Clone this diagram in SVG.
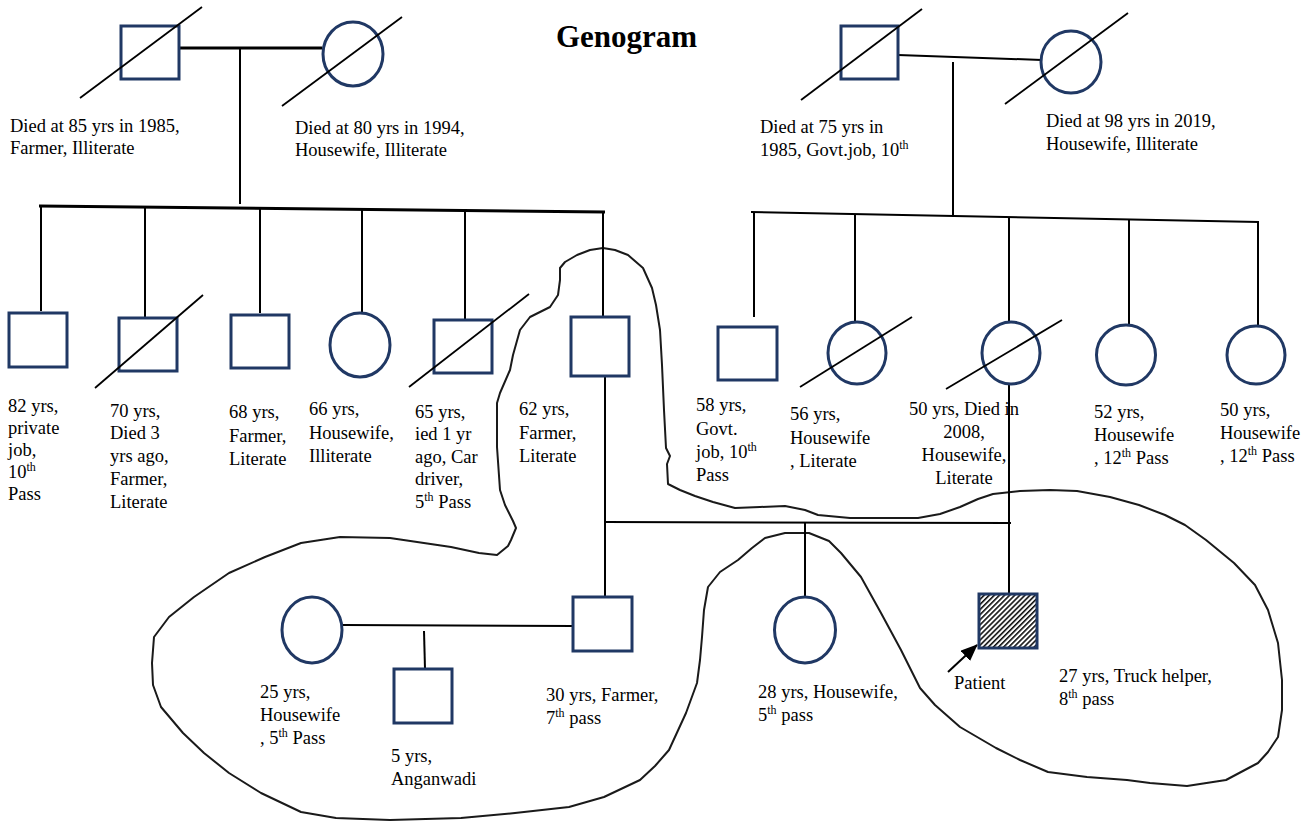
<svg xmlns="http://www.w3.org/2000/svg" width="1313" height="821" viewBox="0 0 1313 821">
<style>
text{font-family:"Liberation Serif","Times New Roman",serif;font-size:18.5px;fill:#000}
.title{font-size:31px;font-weight:bold}
.mid{text-anchor:middle}
.sq,.ci{fill:#fff;stroke:#203864;stroke-width:3}
.pt{fill:url(#hatch);stroke:#203864;stroke-width:3}
.ln{stroke:#000;stroke-width:2;fill:none}
.thick{stroke:#000;stroke-width:3;fill:none}
.dead{stroke:#000;stroke-width:1.8}
.bound{fill:none;stroke:#1a1a1a;stroke-width:2;stroke-linejoin:round}
.sup{font-size:12px}
</style>
<defs>
<pattern id="hatch" patternUnits="userSpaceOnUse" width="3.6" height="6" patternTransform="rotate(45)">
<rect width="3.6" height="6" fill="#fff"/>
<line x1="0.8" y1="0" x2="0.8" y2="6" stroke="#000" stroke-width="1.5"/>
</pattern>
<marker id="arr" markerWidth="17" markerHeight="14" refX="16" refY="7" orient="auto" markerUnits="userSpaceOnUse" viewBox="0 0 17 14">
<path d="M0,0 L17,7 L0,14 Z" fill="#000"/>
</marker>
</defs>
<rect width="1313" height="821" fill="#fff"/>

<text class="title" x="556" y="47">Genogram</text>

<g id="household">
<path class="bound" d="M560,268 L565,262 L577,255 L590,250 L603,248 L615,250 L628,255 L643,268 L652,288 L656,305 L660,330 L662,365 L664,410 L666,448 L670,456 L667,464 L668,484 L680,490 L695,496 L713,502 L735,508 L760,507 L785,506 L805,510 L818,515 L850,518 L889,518 L918,518 L940,514 L960,507 L978,499 L993,494 L1020,491 L1050,490 L1077,491 L1110,497 L1139,505 L1165,515 L1185,525 L1206,540 L1234,563 L1255,585 L1268,610 L1278,643 L1282,680 L1282,710 L1278,737 L1268,752 L1258,763 L1226,780 L1187,786 L1150,783 L1127,780 L1087,777 L1048,772 L1020,760 L996,748 L960,727 L935,705 L920,688 L901,650 L881,613 L861,577 L841,553 L829,541 L809,533 L785,533 L765,538 L752,548 L738,560 L720,572 L708,587 L704,610 L702,637 L700,660 L697,683 L686,713 L669,750 L655,766 L640,780 L604,797 L569,807 L515,813 L461,818 L390,820 L336,818 L301,812 L261,793 L229,773 L204,753 L183,733 L161,707 L153,685 L152,663 L154,637 L169,617 L194,597 L229,573 L265,557 L301,543 L340,537 L390,538 L451,547 L479,553 L497,555 L508,546 L511,540 L516,528 L513,521 L505,505 L500,490 L497,447 L497,403 L500,393 L510,370 L513,355 L520,330 L530,317 L550,307 L558,295 L560,280 Z"/>
</g>

<g id="connectors">
<line class="thick" x1="179" y1="48" x2="322" y2="48"/>
<line class="ln" x1="240" y1="48" x2="240" y2="204"/>
<line class="thick" x1="39" y1="206" x2="605" y2="212"/>
<line class="ln" x1="41" y1="206" x2="41" y2="311"/>
<line class="ln" x1="145" y1="207" x2="145" y2="317"/>
<line class="ln" x1="260" y1="208" x2="260" y2="313"/>
<line class="ln" x1="362" y1="209" x2="362" y2="313"/>
<line class="ln" x1="465" y1="210" x2="465" y2="320"/>
<line class="ln" x1="603" y1="212" x2="603" y2="318"/>

<line class="ln" x1="898" y1="55" x2="1042" y2="60"/>
<line class="ln" x1="953" y1="62" x2="953" y2="216"/>
<line class="ln" x1="751" y1="212" x2="1259" y2="222"/>
<line class="ln" x1="754" y1="212" x2="754" y2="317"/>
<line class="ln" x1="855" y1="214" x2="855" y2="322"/>
<line class="ln" x1="1009" y1="217" x2="1009" y2="322"/>
<line class="ln" x1="1129" y1="219" x2="1129" y2="324"/>
<line class="ln" x1="1258" y1="222" x2="1258" y2="326"/>

<line class="ln" x1="605" y1="377" x2="605" y2="522"/>
<line class="ln" x1="1009" y1="384" x2="1009" y2="594"/>
<line class="ln" x1="605" y1="522" x2="1011" y2="523"/>
<line class="ln" x1="605" y1="522" x2="605" y2="598"/>
<line class="ln" x1="805" y1="522" x2="805" y2="597"/>

<line class="ln" x1="343" y1="625" x2="573" y2="626"/>
<line class="ln" x1="424" y1="631" x2="425" y2="669"/>

<line class="ln" x1="948" y1="672" x2="977" y2="645" marker-end="url(#arr)"/>
</g>

<g id="gf-paternal">
<rect class="sq" x="121" y="26" width="58" height="53"/>
<line class="dead" x1="80" y1="98" x2="202" y2="7"/>
<text x="10" y="132">Died at 85 yrs in 1985,</text>
<text x="10" y="154">Farmer, Illiterate</text>
</g>
<g id="gm-paternal">
<ellipse class="ci" cx="353" cy="54" rx="30" ry="32"/>
<line class="dead" x1="282" y1="106" x2="402" y2="17"/>
<text x="295" y="134">Died at 80 yrs in 1994,</text>
<text x="295" y="156">Housewife, Illiterate</text>
</g>
<g id="gf-maternal">
<rect class="sq" x="841" y="26" width="57" height="53"/>
<line class="dead" x1="801" y1="100" x2="922" y2="9"/>
<text x="760" y="133">Died at 75 yrs in</text>
<text x="760" y="156">1985, Govt.job, 10<tspan class="sup" dy="-7">th</tspan></text>
</g>
<g id="gm-maternal">
<ellipse class="ci" cx="1071" cy="62" rx="30" ry="31"/>
<line class="dead" x1="1005" y1="104" x2="1128" y2="13"/>
<text x="1046" y="127">Died at 98 yrs in 2019,</text>
<text x="1046" y="150">Housewife, Illiterate</text>
</g>

<g id="uncle-82">
<rect class="sq" x="9" y="313" width="58" height="54"/>
<text x="8" y="412">82 yrs,</text>
<text x="8" y="434">private</text>
<text x="8" y="456">job,</text>
<text x="8" y="478">10<tspan class="sup" dy="-7">th</tspan></text>
<text x="8" y="500">Pass</text>
</g>
<g id="uncle-70">
<rect class="sq" x="119" y="318" width="58" height="53"/>
<line class="dead" x1="95" y1="388" x2="203" y2="295"/>
<text x="110" y="417">70 yrs,</text>
<text x="110" y="439">Died 3</text>
<text x="110" y="462">yrs ago,</text>
<text x="110" y="485">Farmer,</text>
<text x="110" y="508">Literate</text>
</g>
<g id="uncle-68">
<rect class="sq" x="231" y="315" width="58" height="53"/>
<text x="229" y="418">68 yrs,</text>
<text x="229" y="442">Farmer,</text>
<text x="229" y="465">Literate</text>
</g>
<g id="aunt-66">
<ellipse class="ci" cx="360" cy="345" rx="30" ry="32"/>
<text x="309" y="415">66 yrs,</text>
<text x="309" y="439">Housewife,</text>
<text x="309" y="462">Illiterate</text>
</g>
<g id="uncle-65">
<rect class="sq" x="434" y="320" width="58" height="53"/>
<line class="dead" x1="409" y1="387" x2="529" y2="294"/>
<text x="415" y="418">65 yrs,</text>
<text x="415" y="440">ied 1 yr</text>
<text x="415" y="463">ago, Car</text>
<text x="415" y="485">driver,</text>
<text x="415" y="508">5<tspan class="sup" dy="-7">th</tspan><tspan dy="7"> Pass</tspan></text>
</g>
<g id="father-62">
<rect class="sq" x="571" y="317" width="58" height="59"/>
<text x="519" y="415">62 yrs,</text>
<text x="519" y="439">Farmer,</text>
<text x="519" y="462">Literate</text>
</g>

<g id="uncle-58">
<rect class="sq" x="718" y="327" width="59" height="53"/>
<text x="696" y="411">58 yrs,</text>
<text x="696" y="435">Govt.</text>
<text x="696" y="458">job, 10<tspan class="sup" dy="-7">th</tspan></text>
<text x="696" y="481">Pass</text>
</g>
<g id="aunt-56">
<ellipse class="ci" cx="857" cy="353" rx="29" ry="31"/>
<line class="dead" x1="800" y1="387" x2="912" y2="317"/>
<text x="790" y="420">56 yrs,</text>
<text x="790" y="444">Housewife</text>
<text x="790" y="467">, Literate</text>
</g>
<g id="mother-50">
<ellipse class="ci" cx="1011" cy="353" rx="29" ry="31"/>
<line class="dead" x1="946" y1="389" x2="1062" y2="320"/>
<text class="mid" x="964" y="415">50 yrs, Died in</text>
<text class="mid" x="964" y="438">2008,</text>
<text class="mid" x="964" y="461">Housewife,</text>
<text class="mid" x="964" y="484">Literate</text>
</g>
<g id="aunt-52">
<ellipse class="ci" cx="1126" cy="355" rx="29.5" ry="30"/>
<text x="1094" y="418">52 yrs,</text>
<text x="1094" y="441">Housewife</text>
<text x="1094" y="464">, 12<tspan class="sup" dy="-7">th</tspan><tspan dy="7"> Pass</tspan></text>
</g>
<g id="aunt-50">
<ellipse class="ci" cx="1256" cy="355" rx="29" ry="29"/>
<text x="1220" y="416">50 yrs,</text>
<text x="1220" y="439">Housewife</text>
<text x="1220" y="462">, 12<tspan class="sup" dy="-7">th</tspan><tspan dy="7"> Pass</tspan></text>
</g>

<g id="wife-25">
<ellipse class="ci" cx="312" cy="630" rx="30" ry="33"/>
<text x="260" y="698">25 yrs,</text>
<text x="260" y="721">Housewife</text>
<text x="260" y="744">, 5<tspan class="sup" dy="-7">th</tspan><tspan dy="7"> Pass</tspan></text>
</g>
<g id="child-5">
<rect class="sq" x="394" y="669" width="58" height="54"/>
<text x="391" y="762">5 yrs,</text>
<text x="391" y="785">Anganwadi</text>
</g>
<g id="brother-30">
<rect class="sq" x="573" y="597" width="59" height="54"/>
<text x="546" y="701">30 yrs, Farmer,</text>
<text x="546" y="724">7<tspan class="sup" dy="-7">th</tspan><tspan dy="7"> pass</tspan></text>
</g>
<g id="sister-28">
<ellipse class="ci" cx="805" cy="630" rx="30.5" ry="33"/>
<text x="758" y="698">28 yrs, Housewife,</text>
<text x="758" y="721">5<tspan class="sup" dy="-7">th</tspan><tspan dy="7"> pass</tspan></text>
</g>
<g id="patient">
<rect class="pt" x="979" y="594" width="58" height="54"/>
<text x="954" y="689">Patient</text>
<text x="1059" y="682">27 yrs, Truck helper,</text>
<text x="1059" y="705">8<tspan class="sup" dy="-7">th</tspan><tspan dy="7"> pass</tspan></text>
</g>
</svg>
